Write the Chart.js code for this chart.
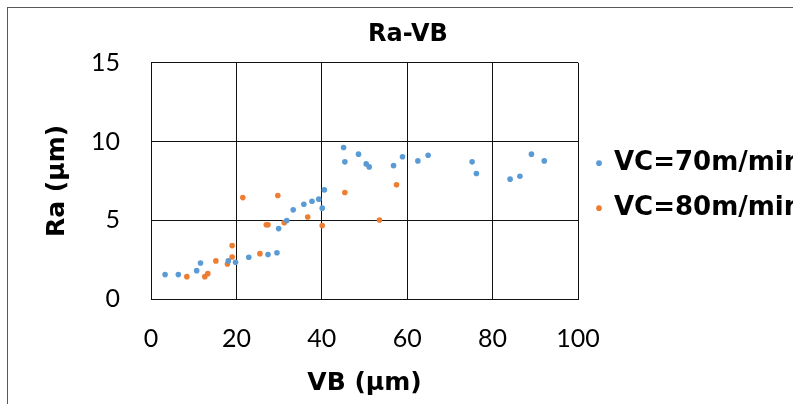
<!DOCTYPE html>
<html>
<head>
<meta charset="utf-8">
<script src="https://cdn.jsdelivr.net/npm/chart.js@4"></script>
<style>
  html, body { margin: 0; padding: 0; background: #fff; width: 793px; height: 404px; overflow: hidden; position: relative; }
  #frame { position: absolute; left: 7px; top: 7px; width: 830px; height: 420px;
           border-left: 1px solid #595959; border-top: 1px solid #595959; }
  /* canvas starts left of the page so the y axis box is wide enough for the legend cap */
  #myChart { position: absolute; left: -89px; top: 8px; }
</style>
</head>
<body>
<div id="frame"></div>
<canvas id="myChart" width="882" height="400"></canvas>
<script>
// VC = 70 m/min
const vc70X = [3.3, 6.4, 10.7, 11.6, 18.1, 19.8, 22.9, 27.4, 29.5, 29.9, 31.8, 33.3, 35.8, 37.7, 39.3, 40.1,
               40.6, 45.1, 45.4, 48.6, 50.4, 51.1, 56.8, 58.9, 62.5, 64.9, 75.2, 76.2, 84.1, 86.4, 89.1, 92.1];
const vc70Y = [1.55, 1.55, 1.8, 2.29, 2.42, 2.33, 2.65, 2.82, 2.94, 4.47, 4.98, 5.66, 6.02, 6.21, 6.34, 5.77,
               6.93, 9.62, 8.71, 9.2, 8.58, 8.39, 8.47, 9.03, 8.77, 9.13, 8.71, 7.97, 7.61, 7.8, 9.2, 8.77];

// VC = 80 m/min
const vc80X = [8.4, 12.6, 13.3, 15.2, 17.9, 19.0, 19.0, 21.5, 25.5, 27.0, 27.4, 29.7, 31.2, 36.7, 40.1, 45.4, 53.5, 57.5];
const vc80Y = [1.42, 1.42, 1.61, 2.42, 2.22, 2.67, 3.39, 6.44, 2.88, 4.72, 4.72, 6.57, 4.85, 5.21, 4.66, 6.76, 5.02, 7.25];

const seriesNames = ['VC=70m/min', 'VC=80m/min'];
const seriesColors = ['#5B9BD5', '#ED7D31'];
const xTicks = [0, 20, 40, 60, 80, 100];
const yTicks = [0, 5, 10, 15];

const toPoints = (xs, ys) => xs.map((x, i) => ({ x: x, y: ys[i] }));

const boldFont = (size) => ({ family: 'DejaVu Sans', weight: 'bold', size: size });
const tickFont = { family: 'Lato', size: 25 };

// the title in the original sits right of the plot centre (its frame is wider than the crop)
const titleShift = {
    id: 'titleShift',
    afterLayout(chart) {
        const t = chart.titleBlock;
        const half = (t.right - t.left) / 2;
        const mid = chart.chartArea.left + 257;
        t.left = mid - half;
        t.right = mid + half;
    }
};

const ctx = document.getElementById('myChart').getContext('2d');

new Chart(ctx, {
    type: 'scatter',
    data: {
        datasets: [
            { label: seriesNames[0], data: toPoints(vc70X, vc70Y), backgroundColor: seriesColors[0],
              borderWidth: 0, pointRadius: 2.8 },
            { label: seriesNames[1], data: toPoints(vc80X, vc80Y), backgroundColor: seriesColors[1],
              borderWidth: 0, pointRadius: 2.8 }
        ]
    },
    plugins: [titleShift],
    options: {
        responsive: false,
        animation: false,
        layout: { padding: 0 },
        plugins: {
            title: {
                display: true,
                text: 'Ra-VB',
                color: '#000',
                font: boldFont(24),
                padding: { top: 12, bottom: 14 }
            },
            legend: {
                position: 'right',
                fullSize: false,
                maxWidth: 215,
                title: { display: true, text: ' ', font: { size: 8 }, padding: 0 },
                labels: {
                    usePointStyle: true,
                    pointStyle: 'circle',
                    boxWidth: 4,
                    boxHeight: 4,
                    padding: 19,
                    color: '#000',
                    font: boldFont(26)
                }
            },
            tooltip: { enabled: false }
        },
        scales: {
            x: {
                type: 'linear',
                min: xTicks[0],
                max: xTicks[xTicks.length - 1],
                afterBuildTicks: (scale) => { scale.ticks = xTicks.map(v => ({ value: v })); },
                ticks: { padding: 25, color: '#000', font: tickFont },
                grid: { color: '#111', drawTicks: false },
                border: { color: '#111' },
                title: { display: true, text: 'VB (µm)', color: '#000', font: boldFont(25), padding: { top: 0, bottom: 10 } },
                afterFit: (scale) => { scale.height = 109; }
            },
            y: {
                type: 'linear',
                min: yTicks[0],
                max: yTicks[yTicks.length - 1],
                afterBuildTicks: (scale) => { scale.ticks = yTicks.map(v => ({ value: v })); },
                ticks: { padding: 31, color: '#000', font: tickFont },
                grid: { color: '#111', drawTicks: false },
                border: { color: '#111' },
                title: { display: true, text: 'Ra (µm)', color: '#000', font: boldFont(25), padding: { top: 131, bottom: 0 } },
                afterFit: (scale) => { scale.width = 240; }
            }
        }
    }
});
</script>
</body>
</html>
